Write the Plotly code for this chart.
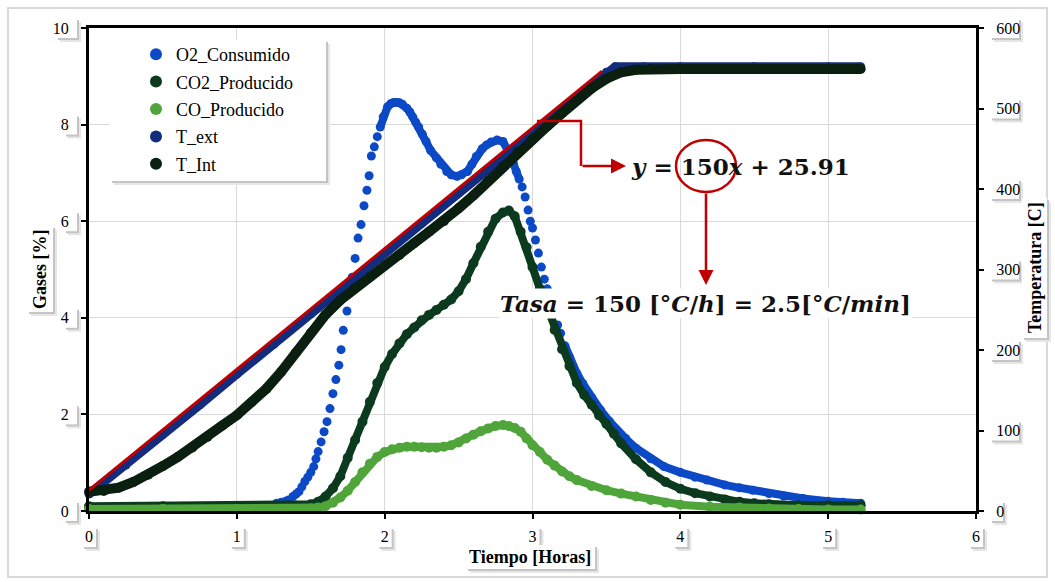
import plotly.graph_objects as go

# ---------------- data ----------------
O2_TIME = [0.0, 0.25, 0.5, 0.75, 1.0, 1.15, 1.25, 1.27, 1.30, 1.33, 1.35, 1.38, 1.40, 1.42, 1.44,
           1.46, 1.48, 1.50, 1.52, 1.535, 1.55, 1.57, 1.59, 1.61, 1.63, 1.65, 1.67, 1.69, 1.705,
           1.72, 1.745, 1.76, 1.78, 1.80, 1.82, 1.84, 1.86, 1.88, 1.895, 1.91, 1.93, 1.95, 1.97,
           1.99, 2.02, 2.04, 2.06, 2.08, 2.10, 2.12, 2.15, 2.17, 2.19, 2.21, 2.23, 2.255, 2.28,
           2.31, 2.35, 2.38, 2.42, 2.45, 2.49, 2.52, 2.56, 2.59, 2.62, 2.66, 2.69, 2.72, 2.76,
           2.80, 2.83, 2.85, 2.87, 2.89, 2.91, 2.93, 2.95, 2.97, 2.985, 3.0, 3.02, 3.04, 3.06,
           3.08, 3.10, 3.12, 3.14, 3.17, 3.19, 3.22, 3.25, 3.3, 3.34, 3.4, 3.46, 3.52, 3.57,
           3.63, 3.7, 3.8, 3.89, 4.0, 4.1, 4.18, 4.3, 4.4, 4.49, 4.6, 4.7, 4.83, 5.0, 5.1, 5.22]
O2_VALUE = [0.05, 0.05, 0.05, 0.05, 0.05, 0.07, 0.12, 0.16, 0.18, 0.2, 0.23, 0.3, 0.35, 0.4, 0.5,
            0.61, 0.7, 0.8, 0.92, 1.08, 1.23, 1.43, 1.64, 1.85, 2.12, 2.43, 2.72, 3.02, 3.34,
            3.74, 4.14, 4.5, 4.84, 5.23, 5.65, 5.93, 6.32, 6.64, 6.94, 7.35, 7.54, 7.75, 7.95,
            8.16, 8.37, 8.43, 8.46, 8.46, 8.45, 8.42, 8.34, 8.26, 8.16, 8.05, 7.95, 7.8, 7.65,
            7.47, 7.31, 7.18, 7.03, 6.96, 6.93, 6.96, 7.03, 7.18, 7.34, 7.5, 7.58, 7.64, 7.68,
            7.65, 7.5, 7.37, 7.2, 7.03, 6.87, 6.71, 6.5, 6.23, 6.0, 5.86, 5.61, 5.34, 5.05,
            4.8, 4.6, 4.3, 4.05, 3.85, 3.68, 3.42, 3.19, 2.85, 2.64, 2.35, 2.09, 1.86, 1.67,
            1.5, 1.3, 1.08, 0.92, 0.8, 0.7, 0.64, 0.54, 0.48, 0.43, 0.36, 0.31, 0.26, 0.2, 0.18, 0.16]

CO2_TIME = [0.0, 0.5, 1.0, 1.3, 1.4, 1.5, 1.55, 1.6, 1.65, 1.7, 1.75, 1.8, 1.85, 1.9, 1.95,
            2.0, 2.05, 2.1, 2.15, 2.2, 2.25, 2.3, 2.35, 2.4, 2.45, 2.5, 2.55, 2.6, 2.65, 2.7,
            2.75, 2.8, 2.84, 2.88, 2.92, 2.96, 3.0, 3.05, 3.1, 3.15, 3.2, 3.25, 3.3, 3.35, 3.4,
            3.45, 3.5, 3.55, 3.6, 3.7, 3.8, 3.9, 4.0, 4.1, 4.2, 4.3, 4.4, 4.5, 4.6, 4.8, 5.0, 5.22]
CO2_VALUE = [0.1, 0.1, 0.1, 0.1, 0.11, 0.14, 0.19, 0.3, 0.47, 0.72, 1.1, 1.47, 1.85, 2.26, 2.65,
             2.98, 3.25, 3.47, 3.66, 3.8, 3.95, 4.06, 4.16, 4.27, 4.38, 4.55, 4.8, 5.13, 5.47, 5.78,
             6.05, 6.18, 6.22, 6.1, 5.78, 5.46, 5.05, 4.6, 4.2, 3.75, 3.35, 3.0, 2.65, 2.4, 2.2,
             1.98, 1.8, 1.6, 1.4, 1.07, 0.8, 0.6, 0.46, 0.37, 0.3, 0.24, 0.19, 0.16, 0.14, 0.12, 0.12, 0.12]

CO_TIME = [0.0, 0.5, 1.0, 1.4, 1.5, 1.55, 1.6, 1.65, 1.7, 1.75, 1.8, 1.85, 1.9, 1.95, 2.0,
           2.05, 2.1, 2.15, 2.2, 2.25, 2.3, 2.35, 2.4, 2.45, 2.5, 2.55, 2.6, 2.65, 2.7, 2.75,
           2.8, 2.84, 2.88, 2.92, 2.96, 3.0, 3.05, 3.1, 3.15, 3.2, 3.25, 3.3, 3.4, 3.5, 3.6,
           3.7, 3.8, 3.9, 4.0, 4.2, 4.4, 4.6, 4.8, 5.0, 5.22]
CO_VALUE = [0.04, 0.04, 0.04, 0.04, 0.05, 0.07, 0.1, 0.17, 0.28, 0.42, 0.6, 0.8, 0.98, 1.12, 1.22,
            1.28, 1.31, 1.33, 1.33, 1.32, 1.31, 1.31, 1.33, 1.36, 1.42, 1.5, 1.58, 1.65, 1.71, 1.76,
            1.78, 1.76, 1.72, 1.64, 1.5, 1.36, 1.22, 1.06, 0.94, 0.82, 0.72, 0.64, 0.52, 0.43, 0.36,
            0.3, 0.23, 0.17, 0.13, 0.09, 0.07, 0.05, 0.04, 0.03, 0.03]

TEXT_TIME = [0.0, 0.25, 0.5, 0.75, 1.0, 1.25, 1.5, 1.75, 2.0, 2.25, 2.5, 2.75, 3.0, 3.25, 3.5,
             3.56, 3.75, 4.0, 4.5, 5.0, 5.22]
TEXT_VALUE = [21, 57, 95, 132, 170, 207, 245, 282, 320, 357, 395, 432, 470, 507, 545,
              552, 552, 552, 552, 552, 552]

TINT_TIME = [0.0, 0.1, 0.2, 0.3, 0.4, 0.5, 0.6, 0.7, 0.8, 0.9, 1.0, 1.1, 1.2, 1.3, 1.4, 1.5,
             1.6, 1.7, 1.8, 1.9, 2.0, 2.1, 2.2, 2.3, 2.4, 2.5, 2.6, 2.7, 2.8, 2.9, 3.0, 3.1,
             3.2, 3.3, 3.4, 3.5, 3.6, 3.7, 3.8, 4.0, 4.5, 5.0, 5.22]
TINT_VALUE = [24, 25, 29, 36, 45, 56, 67, 79, 92, 106, 119, 135, 152, 173, 197, 221,
              244, 262, 277, 291, 305, 318, 333, 347, 360, 376, 392, 410, 428, 446, 462, 478,
              494, 510, 525, 537, 545, 548, 549, 549, 549, 549, 549]

TREND_SLOPE = 150
TREND_INTERCEPT = 25.91
TREND_TIME = [0.0, 3.47]

X_TICKS = [0, 1, 2, 3, 4, 5, 6]
Y_TICKS = [0, 2, 4, 6, 8, 10]
Y2_TICKS = [0, 100, 200, 300, 400, 500, 600]

# ---------------- style ----------------
C_O2 = "#0B49C6"
C_CO2 = "#0C3A1E"
C_CO = "#4FA53A"
C_TEXT = "#132D7E"
C_TINT = "#0A1F10"
C_RED = "#C00000"
SERIF = "Liberation Serif, Times New Roman, serif"
MATH = "DejaVu Serif, serif"
TICK_SIZE = 16

W, H = 1055, 582
ML, MR, MT, MB = 89, 79, 28, 71
PW, PH = W - ML - MR, H - MT - MB


def px(p):
    return (p - ML) / PW


def py(p):
    return (H - MB - p) / PH


def dx(p):
    return (p - ML) / PW * 6


def dy(p):
    return (H - MB - p) / PH * 10


fig = go.Figure()

# O2: line only in the smooth parts, dots everywhere
o2_line = [None if (1.28 < t < 1.96 or 2.92 < t < 3.2) else v for t, v in zip(O2_TIME, O2_VALUE)]
fig.add_trace(go.Scatter(x=O2_TIME, y=o2_line, mode="lines", connectgaps=False,
                         line=dict(color=C_O2, width=8), showlegend=False, hoverinfo="skip"))
fig.add_trace(go.Scatter(x=O2_TIME, y=O2_VALUE, mode="markers", name="O2_Consumido",
                         marker=dict(color=C_O2, size=9), showlegend=False, cliponaxis=False))
fig.add_trace(go.Scatter(x=CO2_TIME, y=CO2_VALUE, mode="lines+markers", name="CO2_Producido",
                         line=dict(color=C_CO2, width=8), marker=dict(color=C_CO2, size=10),
                         showlegend=False, cliponaxis=False))
fig.add_trace(go.Scatter(x=CO_TIME, y=CO_VALUE, mode="lines+markers", name="CO_Producido",
                         line=dict(color=C_CO, width=8), marker=dict(color=C_CO, size=10),
                         showlegend=False, cliponaxis=False))
fig.add_trace(go.Scatter(x=TEXT_TIME, y=TEXT_VALUE, yaxis="y2", mode="lines+markers", name="T_ext",
                         line=dict(color=C_TEXT, width=9), marker=dict(color=C_TEXT, size=9),
                         showlegend=False, cliponaxis=False))
fig.add_trace(go.Scatter(x=TINT_TIME, y=TINT_VALUE, yaxis="y2", mode="lines+markers", name="T_Int",
                         line=dict(color=C_TINT, width=10), marker=dict(color=C_TINT, size=10),
                         showlegend=False, cliponaxis=False))
trend_y = [TREND_SLOPE * t + TREND_INTERCEPT for t in TREND_TIME]
fig.add_trace(go.Scatter(x=TREND_TIME, y=trend_y, yaxis="y2", mode="lines",
                         line=dict(color=C_RED, width=3), showlegend=False, hoverinfo="skip"))

# legend entries (dots only)
for i, (nm, col) in enumerate([("O2_Consumido", C_O2), ("CO2_Producido", C_CO2),
                               ("CO_Producido", C_CO), ("T_ext", C_TEXT), ("T_Int", C_TINT)]):
    fig.add_trace(go.Scatter(x=[None], y=[None], mode="markers", name=nm,
                             marker=dict(color=col, size=9), legendgroup="g%d" % i,
                             showlegend=True))

shapes = []


def prect(x0, y0, x1, y1, fill, layer="above", line=None):
    shapes.append(dict(type="rect", xref="paper", yref="paper", x0=px(x0), x1=px(x1), y0=py(y1),
                       y1=py(y0), line=line or dict(width=0), fillcolor=fill, layer=layer))


def shadow_box(x0, y0, x1, y1, layer="above"):
    prect(x0 + 4, y0 + 4, x1 + 4, y1 + 4, "#e6e6e6", layer)
    prect(x0 + 2, y0 + 2, x1 + 2, y1 + 2, "#c4c4c4", layer)
    prect(x0, y0, x1, y1, "white", layer)


# outer chart border
prect(8, 8, 1047, 577, "rgba(0,0,0,0)", layer="below", line=dict(color="#d9d9d9", width=2))
# small shadowed boxes behind the tick labels (drawn beneath the axis layer)
digit_w = TICK_SIZE * 0.5
for v in Y_TICKS:
    yc = H - MB - v / 10 * PH
    wlab = len(str(v)) * digit_w
    shadow_box(75 - wlab - 3, yc - 10, 77, yc + 10, layer="below")
for v in Y2_TICKS:
    yc = H - MB - v / 600 * PH
    wlab = len(str(v)) * digit_w
    shadow_box(W - MR + 14, yc - 10, W - MR + 17 + wlab + 2, yc + 10, layer="below")
for v in X_TICKS:
    xc = ML + v / 6 * PW
    shadow_box(xc - 7, 527, xc + 7, 547, layer="below")
# legend box with soft shadow
shadow_box(110, 40, 326, 181)
# axis-title shadows
for (x0, y0, x1, y1) in [(466, 545, 595, 569), (27, 226, 53, 312), (1022, 198, 1047, 338)]:
    shadow_box(x0, y0, x1, y1)

# red connector from trendline
shapes.append(dict(type="path", xref="x", yref="y",
                   path="M %.3f,%.3f L %.3f,%.3f L %.3f,%.3f" % (dx(537), dy(121), dx(581), dy(121), dx(581), dy(166)),
                   line=dict(color=C_RED, width=2.5), layer="above"))
# ellipse around 150
shapes.append(dict(type="circle", xref="x", yref="y", x0=dx(676), x1=dx(736), y0=dy(192), y1=dy(140),
                   line=dict(color=C_RED, width=2.5), layer="above"))

annotations = []


def label(text, x, y, angle=0, size=18):
    annotations.append(dict(text=text, x=px(x), y=py(y), xref="paper", yref="paper", showarrow=False,
                            xanchor="center", yanchor="middle", textangle=angle,
                            font=dict(family=SERIF, size=size, color="black")))


label("<b>Gases [%]</b>", 40, 269, angle=-90)
label("<b>Temperatura [C]</b>", 1035, 268, angle=-90)
label("<b>Tiempo [Horas]</b>", 530, 557)

# arrows
annotations.append(dict(x=dx(626), y=dy(166), ax=dx(581), ay=dy(166), xref="x", yref="y", axref="x",
                        ayref="y", text="", showarrow=True, arrowhead=2, arrowsize=1.2, arrowwidth=2.5,
                        arrowcolor=C_RED))
annotations.append(dict(x=dx(706), y=dy(285), ax=dx(706), ay=dy(192), xref="x", yref="y", axref="x",
                        ayref="y", text="", showarrow=True, arrowhead=2, arrowsize=1.2, arrowwidth=2.5,
                        arrowcolor=C_RED))
# equations
annotations.append(dict(text="<b><i>y</i> = 150<i>x</i> + 25.91</b>", x=dx(740), y=dy(166),
                        xref="x", yref="y", showarrow=False, xanchor="center", yanchor="middle",
                        font=dict(family=MATH, size=23, color="#111")))
annotations.append(dict(text="<b><i>Tasa</i> = 150 [°<i>C</i>/<i>h</i>] = 2.5[°<i>C</i>/<i>min</i>]</b>",
                        x=dx(705), y=dy(303), xref="x", yref="y", xanchor="center", yanchor="middle",
                        showarrow=False, font=dict(family=MATH, size=23, color="#111"),
                        bgcolor="white", borderpad=1))

axis_common = dict(showline=True, linecolor="black", linewidth=3, ticks="outside", ticklen=5,
                   tickwidth=2, tickcolor="black", zeroline=False,
                   tickfont=dict(family=SERIF, size=TICK_SIZE, color="black"))

fig.update_layout(
    width=W, height=H,
    margin=dict(l=ML, r=MR, t=MT, b=MB),
    paper_bgcolor="white", plot_bgcolor="white",
    xaxis=dict(range=[0, 6], tickvals=X_TICKS, showgrid=True, gridcolor="#d9d9d9", gridwidth=1,
               mirror=True, ticklabelstandoff=4, **axis_common),
    yaxis=dict(range=[0, 10], tickvals=Y_TICKS, showgrid=True, gridcolor="#d9d9d9", gridwidth=1,
               ticklabelstandoff=9, **axis_common),
    yaxis2=dict(range=[0, 600], tickvals=Y2_TICKS, overlaying="y", side="right", showgrid=False,
                ticklabelstandoff=9, **axis_common),
    legend=dict(x=px(136), y=py(36), xanchor="left", yanchor="top", bgcolor="rgba(0,0,0,0)",
                font=dict(family=SERIF, size=18, color="black"), traceorder="grouped",
                tracegroupgap=1, itemsizing="constant"),
    shapes=shapes,
    annotations=annotations,
    showlegend=True,
)

fig.write_html("out.html")
